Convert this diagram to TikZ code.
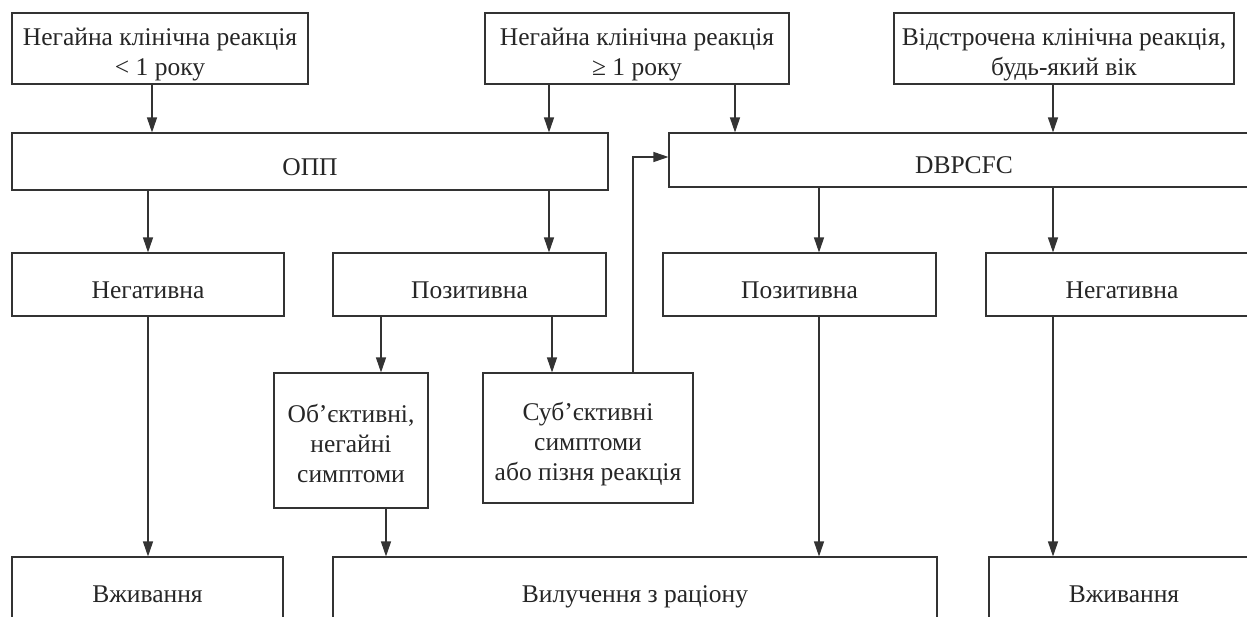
\documentclass[tikz,border=0pt]{standalone}
\usepackage{fontspec}
\setmainfont{Liberation Serif}
\usetikzlibrary{arrows.meta}
\newcommand{\boxstrut}{\rule{0pt}{30pt}}

\begin{document}
\begin{tikzpicture}[x=1pt,y=-1pt,>={Triangle[length=15pt,width=10pt]}]
				\tikzstyle{box}=[draw=black!80,line width=1.1pt,rectangle,inner sep=2pt,
				align=center,text=black!85,font=\fontsize{25.5}{30}\selectfont,
				execute at begin node={\rule{0pt}{33pt}},
				execute at end node={\rule[-6pt]{0pt}{6pt}}]
				\tikzstyle{arr}=[->,draw=black!80,line width=1.1pt]
				\clip (0,0) rectangle (1247,616);
				\node[box,minimum width=296,minimum height=71] (young) at (160,48.5) {\boxstrut Негайна клінічна реакція\\< 1 року};
				\node[box,minimum width=304,minimum height=71] (old) at (637,48.5) {\boxstrut Негайна клінічна реакція\\≥ 1 року};
				\node[box,minimum width=340,minimum height=71] (late) at (1064,48.5) {\boxstrut Відстрочена клінічна реакція,\\будь-який вік};
				\node[box,minimum width=596,minimum height=57] (opp) at (310,161.5) {ОПП};
				\node[box,minimum width=590,minimum height=54] (dbp) at (964,160) {DBPCFC};
				\node[box,minimum width=272,minimum height=63] (negl) at (148,284.5) {Негативна};
				\node[box,minimum width=273,minimum height=63] (posl) at (469.5,284.5) {Позитивна};
				\node[box,minimum width=273,minimum height=63] (posr) at (799.5,284.5) {Позитивна};
				\node[box,minimum width=272,minimum height=63] (negr) at (1122,284.5) {Негативна};
				\node[box,minimum width=154,minimum height=135] (obj) at (351,440.5) {\boxstrut Об’єктивні,\\негайні\\симптоми};
				\node[box,minimum width=210,minimum height=130] (subj) at (588,438) {\boxstrut Суб’єктивні\\симптоми\\або пізня реакція};
				\node[box,minimum width=271,minimum height=63] (usel) at (147.5,588.5) {Вживання};
				\node[box,minimum width=604,minimum height=63] (drop) at (635,588.5) {Вилучення з раціону};
				\node[box,minimum width=270,minimum height=63] (user) at (1124,588.5) {Вживання};
				\draw[arr] ([xshift=-8pt]young.south) -- ([xshift=-8pt]young.south |- opp.north);
				\draw[arr] ([xshift=-88pt]old.south) -- ([xshift=-88pt]old.south |- opp.north);
				\draw[arr] ([xshift=98pt]old.south) -- ([xshift=98pt]old.south |- dbp.north);
				\draw[arr] ([xshift=-11pt]late.south) -- ([xshift=-11pt]late.south |- dbp.north);
				\draw[arr] (negl.north |- opp.south) -- (negl.north);
				\draw[arr] ([xshift=79.5pt]posl.north |- opp.south) -- ([xshift=79.5pt]posl.north);
				\draw[arr] ([xshift=19.5pt]posr.north |- dbp.south) -- ([xshift=19.5pt]posr.north);
				\draw[arr] ([xshift=-69pt]negr.north |- dbp.south) -- ([xshift=-69pt]negr.north);
				\draw[arr] ([xshift=30pt]obj.north |- posl.south) -- ([xshift=30pt]obj.north);
				\draw[arr] ([xshift=-36pt]subj.north |- posl.south) -- ([xshift=-36pt]subj.north);
				\draw[arr] ([xshift=45pt]subj.north) |- ([yshift=3pt]dbp.west);
				\draw[arr] (negl.south) -- (negl.south |- usel.north);
				\draw[arr] ([xshift=35pt]obj.south) -- ([xshift=35pt]obj.south |- drop.north);
				\draw[arr] ([xshift=19.5pt]posr.south) -- ([xshift=19.5pt]posr.south |- drop.north);
				\draw[arr] ([xshift=-69pt]negr.south) -- ([xshift=-69pt]negr.south |- user.north);
\end{tikzpicture}
\end{document}
